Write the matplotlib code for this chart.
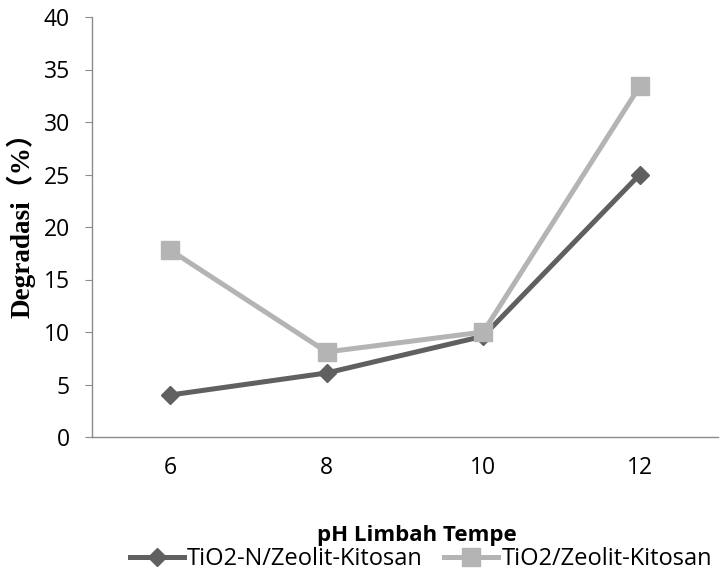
import matplotlib
matplotlib.use("Agg")
import matplotlib.pyplot as plt
from matplotlib.lines import Line2D

categories = ["6", "8", "10", "12"]
series_n = [4.0, 6.1, 9.6, 25.0]
series_plain = [17.8, 8.1, 10.0, 33.4]
label_n = "TiO2-N/Zeolit-Kitosan"
label_plain = "TiO2/Zeolit-Kitosan"
yticks = [0, 5, 10, 15, 20, 25, 30, 35, 40]

sans = ["Open Sans", "DejaVu Sans"]
W, H = 722, 576
fig = plt.figure(figsize=(W / 100, H / 100), dpi=100)
ax = fig.add_axes([92 / W, 1 - 437 / H, (718 - 92) / W, (437 - 17) / H])

x = list(range(len(categories)))
c_dark = "#606060"
c_light = "#b4b4b4"
ax.plot(x, series_n, color=c_dark, lw=3.6, marker="D", ms=9.5, mec=c_dark, mfc=c_dark, zorder=3)
ax.plot(x, series_plain, color=c_light, lw=3.6, marker="s", ms=13.5, mec=c_light, mfc=c_light, zorder=4)

ax.set_xlim(-0.5, 3.5)
ax.set_ylim(0, 40)
ax.set_yticks(yticks)
ax.set_xticks(x)
ax.set_xticklabels(categories)
for s in ["top", "right"]:
    ax.spines[s].set_visible(False)
for s in ["left", "bottom"]:
    ax.spines[s].set_color("#8c8c8c")
    ax.spines[s].set_linewidth(1.0)
ax.tick_params(axis="y", direction="out", length=5, color="#8c8c8c", labelsize=16.5, pad=11)
ax.tick_params(axis="x", length=0, labelsize=16.5, pad=14)
for lab in ax.get_xticklabels() + ax.get_yticklabels():
    lab.set_family(sans)

fig.text(21 / W, 1 - 219 / H, "Degradasi（%）", rotation=90, ha="center", va="center",
         family=["Liberation Serif", "Noto Sans CJK SC"], fontsize=19.5, fontweight="bold")
fig.text(417 / W, 1 - 536 / H, "pH Limbah Tempe", ha="center", va="center",
         family=sans, fontsize=16, fontweight="bold")

handles = [
    Line2D([], [], color=c_dark, lw=3.6, marker="D", ms=9.5),
    Line2D([], [], color=c_light, lw=3.6, marker="s", ms=13.5),
]
fig.legend(handles, [label_n, label_plain], loc="center left", bbox_to_anchor=(130 / W, 1 - 559 / H),
           ncol=2, frameon=False, prop={"family": sans, "size": 17},
           borderpad=0, borderaxespad=0, handlelength=2.3, handletextpad=0.12, columnspacing=0.9)

fig.savefig("out.png", dpi=100, facecolor="white")
